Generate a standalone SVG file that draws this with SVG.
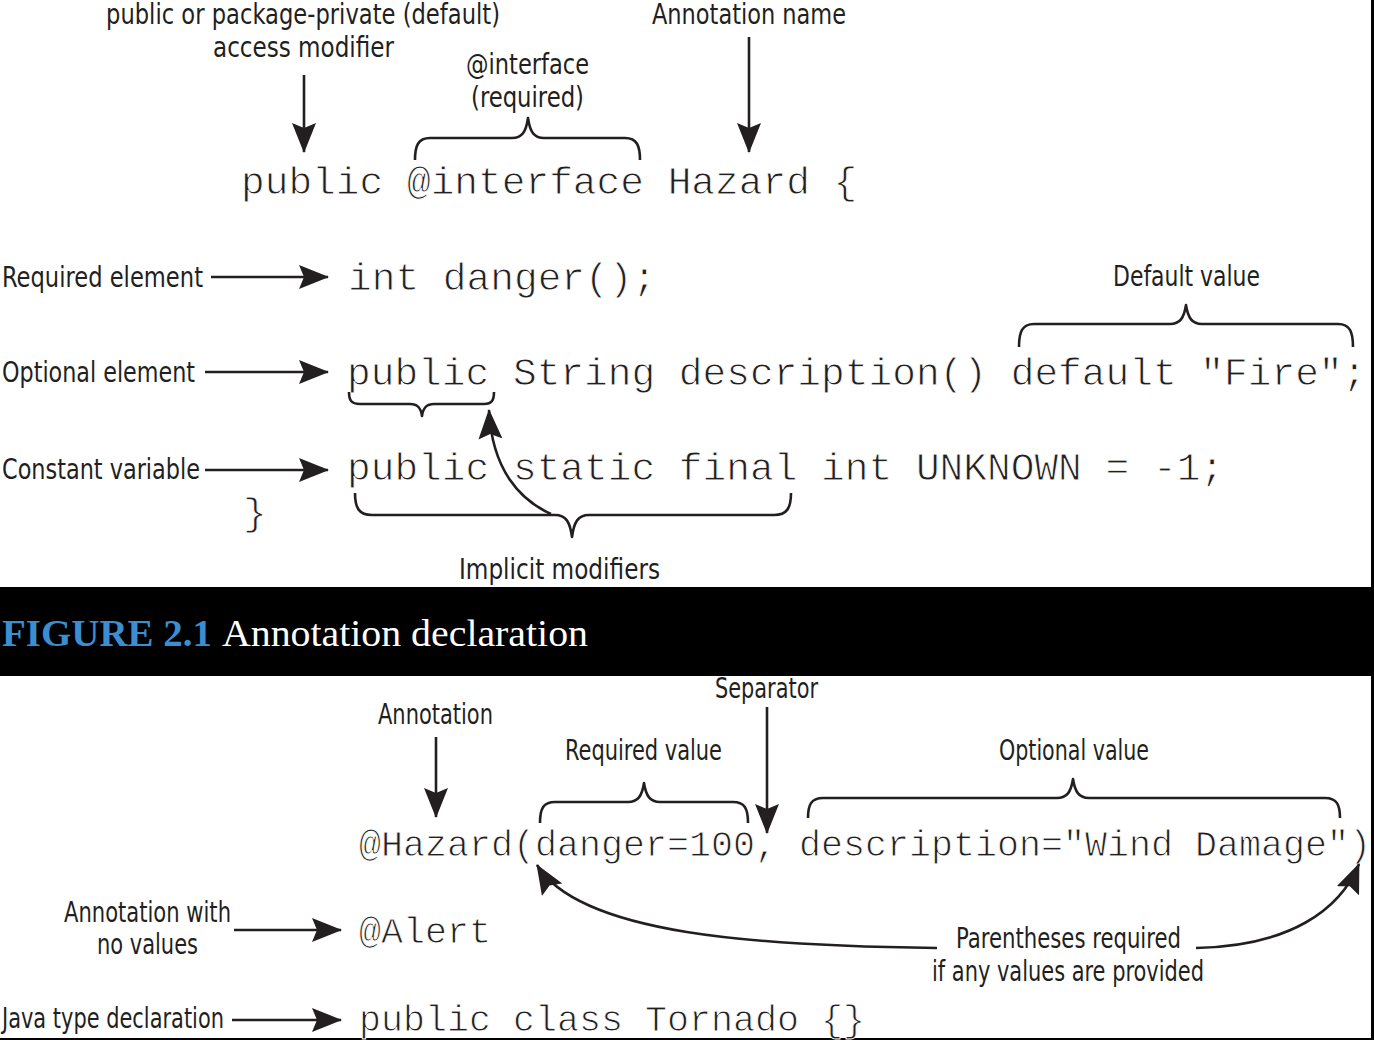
<svg xmlns="http://www.w3.org/2000/svg" width="1374" height="1040" viewBox="0 0 1374 1040">
<style>
.lbl{font-family:"Liberation Sans Narrow","DejaVu Sans Condensed","Liberation Sans",sans-serif;font-size:28px;fill:#231f20}
.code{font-family:"Courier New","Nimbus Mono PS","FreeMono","Liberation Mono",monospace;font-size:39.5px;fill:#231f20;stroke:#ffffff;stroke-width:0.9;white-space:pre}
.code2{font-family:"Courier New","Nimbus Mono PS","FreeMono","Liberation Mono",monospace;font-size:36.67px;fill:#231f20;stroke:#ffffff;stroke-width:0.9;white-space:pre}
.ln{fill:none;stroke:#231f20;stroke-width:2.6}
.br{fill:none;stroke:#231f20;stroke-width:2.6;stroke-linejoin:round}
.cap1{font-family:"Liberation Serif","DejaVu Serif",serif;font-size:38px;font-weight:bold;fill:#3b8fd1}
.cap2{font-family:"Liberation Serif","DejaVu Serif",serif;font-size:38px;fill:#ffffff}
</style>
<defs>
<marker id="ah" viewBox="0 0 30 24" refX="29" refY="12" markerWidth="30" markerHeight="24" markerUnits="userSpaceOnUse" orient="auto">
<path d="M0,0 L30,12 L0,24 L5,12 Z" fill="#231f20"/>
</marker>
</defs>
<rect x="0" y="0" width="1374" height="1040" fill="#ffffff"/>

<g id="caption">
<rect x="0" y="587" width="1374" height="89" fill="#000000"/>
<text class="cap1" x="2" y="646" textLength="210" lengthAdjust="spacingAndGlyphs">FIGURE 2.1</text>
<text class="cap2" x="222" y="646" textLength="366" lengthAdjust="spacingAndGlyphs">Annotation declaration</text>
</g>

<g id="frame">
<rect x="1371" y="0" width="3" height="1040" fill="#000000"/>
<rect x="0" y="1038" width="1374" height="2" fill="#000000"/>
</g>

<g id="code-top">
<text class="code" x="241" y="194">public @interface Hazard {</text>
<text class="code" x="348" y="290">int danger();</text>
<text class="code" x="347" y="385">public String description() default "Fire";</text>
<text class="code" x="347" y="480">public static final int UNKNOWN = -1;</text>
<text class="code" x="243" y="525">}</text>
</g>

<g id="code-bottom">
<text class="code2" x="359" y="856">@Hazard(danger=100, description="Wind Damage")</text>
<text class="code2" x="359" y="943">@Alert</text>
<text class="code2" x="359" y="1031">public class Tornado {}</text>
</g>

<g id="label-access"><text class="lbl" x="106" y="24" textLength="394" lengthAdjust="spacingAndGlyphs">public or package-private (default)</text>
<text class="lbl" x="213" y="57" textLength="181" lengthAdjust="spacingAndGlyphs">access modifier</text></g>
<g id="label-interface"><text class="lbl" x="466" y="74" textLength="123" lengthAdjust="spacingAndGlyphs">@interface</text>
<text class="lbl" x="471" y="107" textLength="113" lengthAdjust="spacingAndGlyphs">(required)</text></g>
<g id="label-name"><text class="lbl" x="652" y="24" textLength="194" lengthAdjust="spacingAndGlyphs">Annotation name</text></g>
<g id="label-required-element"><text class="lbl" x="2" y="287" textLength="201" lengthAdjust="spacingAndGlyphs">Required element</text></g>
<g id="label-default-value"><text class="lbl" x="1113" y="286" textLength="147" lengthAdjust="spacingAndGlyphs">Default value</text></g>
<g id="label-optional-element"><text class="lbl" x="2" y="382" textLength="193" lengthAdjust="spacingAndGlyphs">Optional element</text></g>
<g id="label-constant"><text class="lbl" x="2" y="479" textLength="198" lengthAdjust="spacingAndGlyphs">Constant variable</text></g>
<g id="label-implicit"><text class="lbl" x="459" y="579" textLength="201" lengthAdjust="spacingAndGlyphs">Implicit modifiers</text></g>
<g id="label-annotation"><text class="lbl" x="378" y="724" textLength="115" lengthAdjust="spacingAndGlyphs">Annotation</text></g>
<g id="label-separator"><text class="lbl" x="715" y="698" textLength="103" lengthAdjust="spacingAndGlyphs">Separator</text></g>
<g id="label-required-value"><text class="lbl" x="565" y="760" textLength="157" lengthAdjust="spacingAndGlyphs">Required value</text></g>
<g id="label-optional-value"><text class="lbl" x="999" y="760" textLength="150" lengthAdjust="spacingAndGlyphs">Optional value</text></g>
<g id="label-novalues"><text class="lbl" x="64" y="922" textLength="167" lengthAdjust="spacingAndGlyphs">Annotation with</text>
<text class="lbl" x="97" y="954" textLength="101" lengthAdjust="spacingAndGlyphs">no values</text></g>
<g id="label-parens"><text class="lbl" x="956" y="948" textLength="225" lengthAdjust="spacingAndGlyphs">Parentheses required</text>
<text class="lbl" x="932" y="981" textLength="272" lengthAdjust="spacingAndGlyphs">if any values are provided</text></g>
<g id="label-java-type"><text class="lbl" x="2" y="1028" textLength="222" lengthAdjust="spacingAndGlyphs">Java type declaration</text></g>

<g id="braces">
<path class="br" d="M415,160 C415,146 418,138 430,138 L512,138 C522,138 526,132 528,118 C530,132 534,138 544,138 L625,138 C637,138 640,146 640,160"/>
<path class="br" d="M1019,347 C1019,332 1022,324 1034,324 L1170,324 C1180,324 1184,318 1186,305 C1188,318 1192,324 1202,324 L1338,324 C1350,324 1353,332 1353,347"/>
<path class="br" d="M349,392 C349,400 351,404 360,404 L410,404 C418,404 421,408 422,416 C423,408 426,404 434,404 L484,404 C492,404 494,400 494,392"/>
<path class="br" d="M355,493 C355,508 359,515 372,515 L555,515 C566,515 570,522 572,537 C574,522 578,515 589,515 L774,515 C787,515 791,508 791,493"/>
<path class="br" d="M540,823 C540,809 543,802 555,802 L628,802 C638,802 642,796 644,783 C646,796 650,802 660,802 L733,802 C745,802 748,809 748,823"/>
<path class="br" d="M808,818 C808,805 811,798 823,798 L1057,798 C1067,798 1071,792 1073,779 C1075,792 1079,798 1089,798 L1325,798 C1337,798 1340,805 1340,818"/>
</g>

<g id="connectors">
<path class="ln" d="M304,75 L304,152" marker-end="url(#ah)"/>
<path class="ln" d="M749,37 L749,152" marker-end="url(#ah)"/>
<path class="ln" d="M211,277 L328,277" marker-end="url(#ah)"/>
<path class="ln" d="M205,372 L328,372" marker-end="url(#ah)"/>
<path class="ln" d="M205,470 L328,470" marker-end="url(#ah)"/>
<path class="ln" d="M551,514 C520,500 492,470 489,410" marker-end="url(#ah)"/>
<path class="ln" d="M436,737 L436,817" marker-end="url(#ah)"/>
<path class="ln" d="M767,707 L767,833" marker-end="url(#ah)"/>
<path class="ln" d="M234,930 L341,930" marker-end="url(#ah)"/>
<path class="ln" d="M232,1020 L341,1020" marker-end="url(#ah)"/>
<path class="ln" d="M937,948 C760,946 580,935 537,865" marker-end="url(#ah)"/>
<path class="ln" d="M1196,948 C1290,946 1340,910 1359,864" marker-end="url(#ah)"/>
</g>
</svg>
